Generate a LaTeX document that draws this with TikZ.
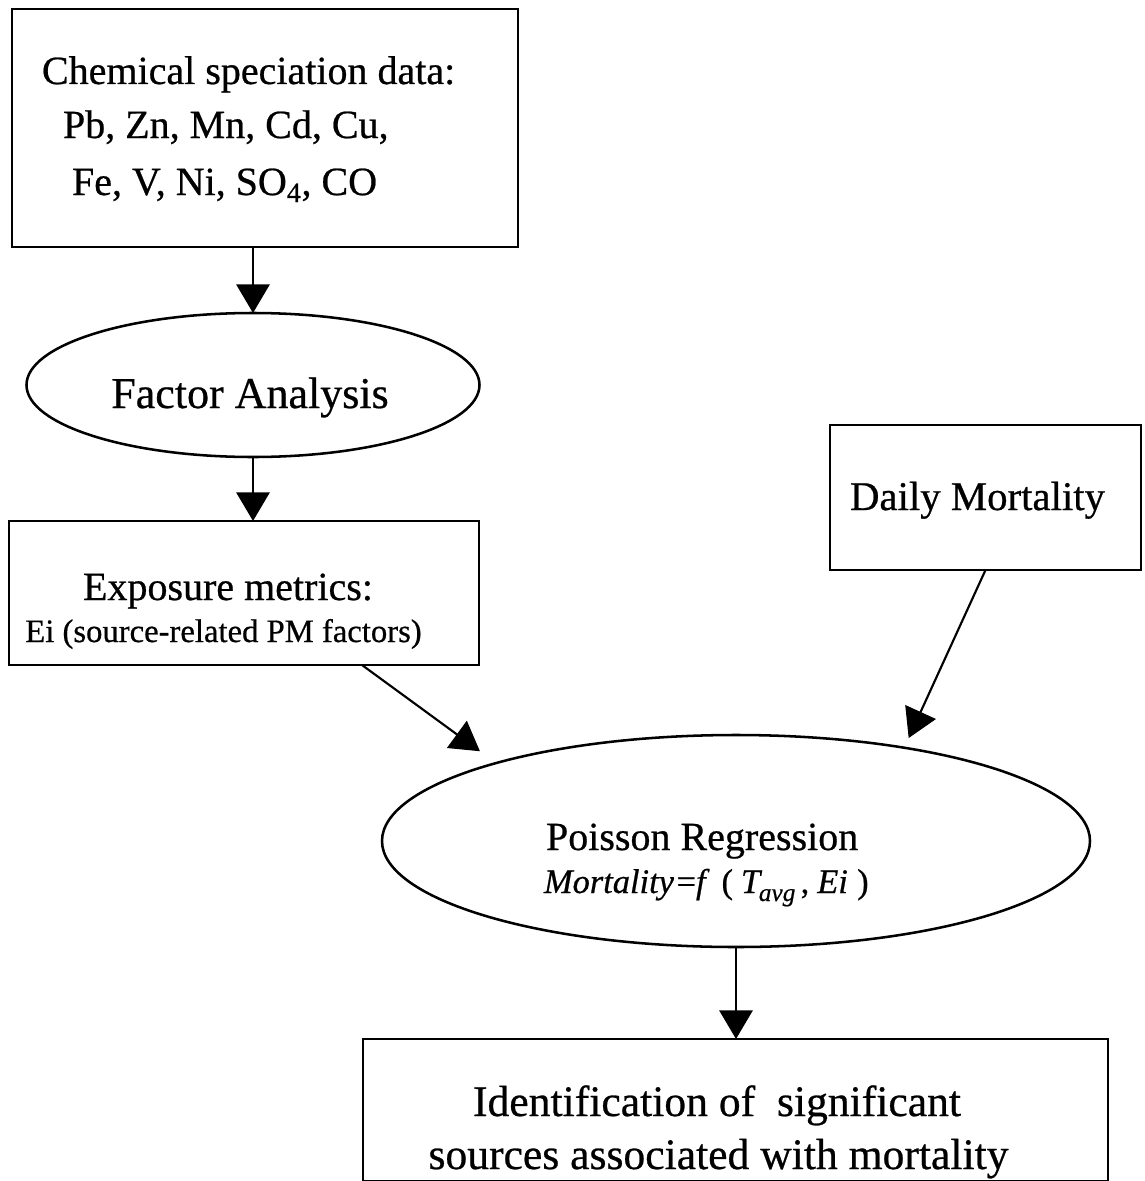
\documentclass[tikz,border=0pt]{standalone}
\usepackage{fontspec}
\setmainfont{Liberation Serif}[FakeBold=0.6]
\usetikzlibrary{arrows.meta,shapes.geometric,calc}
\begin{document}
\begin{tikzpicture}[x=0.75pt,y=-0.75pt,
  box/.style={draw,line width=1.6pt,inner sep=0pt,outer sep=0pt,rectangle},
  oval/.style={draw,line width=1.9pt,inner sep=0pt,outer sep=0pt,ellipse},
  arr/.style={line width=1.6pt,-{Triangle[width=25pt,length=21.5pt]}},
  txt/.style={inner sep=0pt,outer sep=0pt},
  fbig/.style={font=\fontsize{30}{36}\selectfont},
  fsmall/.style={font=\fontsize{24.5}{29}\selectfont}]
\useasboundingbox (0,0) rectangle (1145,1181);
% shapes
\node[box,minimum width=379.5pt,minimum height=178.5pt] (chem) at (265,128) {};
\node[oval,minimum width=339.75pt,minimum height=108pt] (fa) at (253,385) {};
\node[box,minimum width=352.5pt,minimum height=108pt] (expo) at (244,593) {};
\node[box,minimum width=233.25pt,minimum height=108.75pt] (daily) at (985.5,497.5) {};
\node[oval,minimum width=531pt,minimum height=159pt] (pr) at (736,841) {};
\node[box,minimum width=558.75pt,minimum height=106.5pt] (ident) at (735.5,1110) {};
% texts
\node[txt,fbig,anchor=base west] (chemA) at (42,84) {Chemical speciation data:};
\node[txt,fbig,anchor=base west] (chemB) at (63,138) {Pb, Zn, Mn, Cd, Cu,};
\node[txt,fbig,anchor=base west] (chemC) at (72,195) {Fe, V, Ni, SO\textsubscript{4}, CO};
\node[txt,font=\fontsize{33}{40}\selectfont,anchor=base] (faT) at (250,408) {Factor Analysis};
\node[txt,fbig,anchor=base] (expoA) at (228,600) {Exposure metrics:};
\node[txt,fsmall,anchor=base] (expoB) at (223.5,642) {Ei (source-related PM factors)};
\node[txt,font=\fontsize{30.6}{37}\selectfont,anchor=base] (dailyT) at (977.5,510) {Daily Mortality};
\node[txt,fbig,anchor=base west] (prA) at (546,850) {Poisson Regression};
\node[txt,font=\fontsize{25.8}{30}\selectfont\itshape,anchor=base west] (prB) at (544,893)
  {Mortality\hspace{2pt}\textup{=}f\hspace{9pt}\textup{(}\hspace{6pt}T\hspace{-1pt}\raisebox{-6pt}{\fontsize{19}{20}\selectfont avg}\hspace{4pt}\textup{,}\hspace{6pt}Ei\hspace{7pt}\textup{)}};
\node[txt,font=\fontsize{32.7}{39}\selectfont,anchor=base] (identA) at (717,1116) {Identification of\ \ significant};
\node[txt,font=\fontsize{32.7}{39}\selectfont,anchor=base] (identB) at (718.5,1169) {sources associated with mortality};
% connectors
\draw[arr] (chem.south -| fa.north) -- (fa.north);
\draw[arr] (fa.south) -- (fa.south |- expo.north);
\draw[arr,shorten >=15pt] ($(expo.south west)!0.751!(expo.south east)$) -- (pr.162);
\draw[arr,shorten >=8pt] (daily.south) -- (pr.29);
\draw[arr] (pr.south) -- (pr.south |- ident.north);
\end{tikzpicture}
\end{document}
